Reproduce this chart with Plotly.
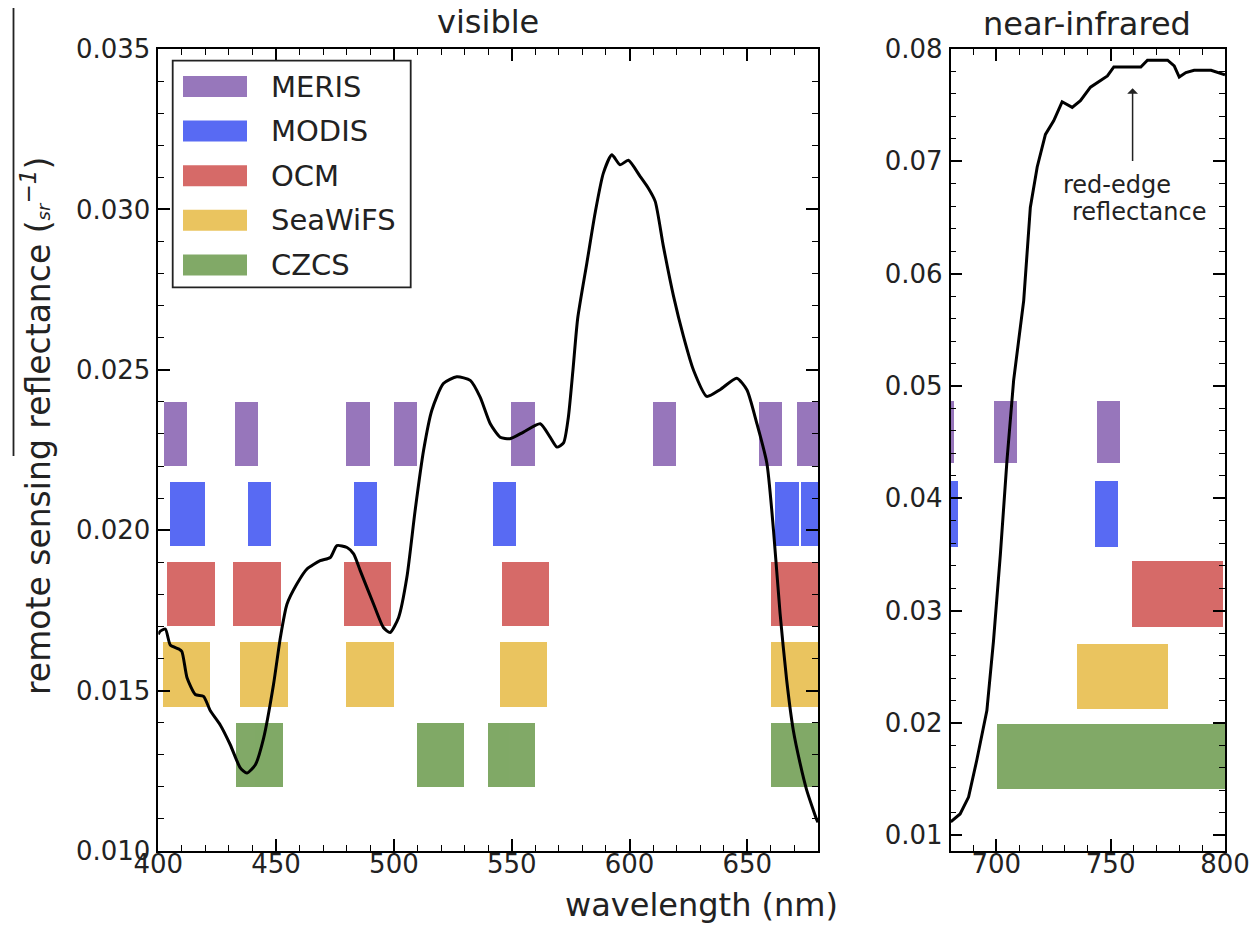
import plotly.graph_objects as go

W, H = 1251, 926

# ---------------- data ----------------
vis_nm = [400.0, 400.8, 403.0, 405.1, 408.6, 410.0, 412.2, 415.7, 419.2, 422.1, 426.3, 430.5,
          434.8, 437.6, 441.2, 444.7, 448.9, 451.8, 454.6, 458.8, 463.1, 468.7, 473.0, 475.8,
          480.1, 482.9, 485.7, 491.4, 495.6, 498.4, 502.0, 505.5, 509.0, 512.6, 516.1, 521.0,
          526.7, 532.4, 536.6, 540.9, 545.1, 549.3, 555.0, 562.1, 566.3, 569.2, 572.0, 574.0,
          576.0, 578.0, 581.9, 585.4, 588.9, 592.5, 596.0, 599.5, 604.5, 608.0, 610.9, 614.4,
          618.7, 622.9, 627.1, 632.8, 638.4, 645.5, 649.8, 654.0, 658.3, 661.1, 663.9, 666.7,
          669.5, 672.4, 675.2, 679.5, 680.0]
vis_rrs = [0.01675, 0.01685, 0.01692, 0.01642, 0.01630, 0.01622, 0.01540, 0.01488, 0.01482, 0.01437,
           0.01393, 0.01332, 0.01259, 0.01243, 0.01269, 0.01352, 0.01519, 0.01665, 0.01769, 0.01832,
           0.01879, 0.01905, 0.01915, 0.01952, 0.01946, 0.01926, 0.01874, 0.01769, 0.01696, 0.01681,
           0.01728, 0.01853, 0.02061, 0.02249, 0.02374, 0.02457, 0.02478, 0.02467, 0.02415, 0.02332,
           0.02290, 0.02285, 0.02306, 0.02332, 0.02290, 0.02259, 0.02272, 0.02350, 0.02500, 0.02660,
           0.02833, 0.02989, 0.03113, 0.03170, 0.03139, 0.03153, 0.03103, 0.03066, 0.03025, 0.02884,
           0.02729, 0.02604, 0.02500, 0.02417, 0.02438, 0.02474, 0.02438, 0.02334, 0.02209, 0.02001,
           0.01741, 0.01533, 0.01377, 0.01273, 0.01190, 0.01097, 0.01090]

nir_nm = [680.1, 684.2, 687.9, 691.5, 695.9, 698.8, 701.8, 704.7, 707.6, 712.0, 714.9, 717.9,
          721.5, 725.1, 728.8, 733.2, 736.8, 741.2, 745.6, 748.6, 751.4, 763.2, 766.1, 774.9,
          777.8, 780.0, 782.9, 786.5, 793.9, 800.0]
nir_rrs = [0.0112, 0.0119, 0.0134, 0.0167, 0.0211, 0.0273, 0.0350, 0.0434, 0.0505, 0.0576, 0.0659, 0.0695,
           0.0724, 0.0736, 0.0753, 0.0748, 0.0754, 0.0766, 0.0772, 0.0776, 0.0784, 0.0784, 0.0790, 0.0790,
           0.0785, 0.0775, 0.0779, 0.0781, 0.0781, 0.0777]

sensors = ["MERIS", "MODIS", "OCM", "SeaWiFS", "CZCS"]
colors = {"MERIS": "rgb(140,104,180)", "MODIS": "rgb(70,90,242)", "OCM": "rgb(210,90,88)",
          "SeaWiFS": "rgb(232,190,78)", "CZCS": "rgb(115,160,86)"}

band_start = {
    "MERIS": [402.5, 432.5, 480, 500, 550, 610, 655, 671.25, 698.75, 743.75],
    "MODIS": [405, 438, 483, 542, 662, 673, 743],
    "OCM": [404, 432, 479, 546, 660, 759],
    "SeaWiFS": [402, 435, 480, 545, 660, 735],
    "CZCS": [433, 510, 540, 660, 700],
}
band_end = {
    "MERIS": [412.5, 442.5, 490, 510, 560, 620, 665, 681.25, 708.75, 753.75],
    "MODIS": [420, 448, 493, 552, 672, 683, 753],
    "OCM": [424, 452, 499, 566, 680, 799],
    "SeaWiFS": [422, 455, 500, 565, 680, 775],
    "CZCS": [453, 530, 560, 680, 800],
}
# row extents (bottom, top) in each panel
row_vis = {"MERIS": (0.0220, 0.0240), "MODIS": (0.0195, 0.0215), "OCM": (0.0170, 0.0190),
           "SeaWiFS": (0.0145, 0.0165), "CZCS": (0.0120, 0.0140)}
row_nir = {"MERIS": (0.0431, 0.0487), "MODIS": (0.0357, 0.0415), "OCM": (0.0285, 0.0344),
           "SeaWiFS": (0.0212, 0.0270), "CZCS": (0.0141, 0.0199)}

vis_xticks = [400, 450, 500, 550, 600, 650]
vis_yticks = [0.010, 0.015, 0.020, 0.025, 0.030, 0.035]
nir_xticks = [700, 750, 800]
nir_yticks = [0.01, 0.02, 0.03, 0.04, 0.05, 0.06, 0.07, 0.08]

# ---------------- figure ----------------
fig = go.Figure()

for s in sensors:
    starts, ends = band_start[s], band_end[s]
    cx = [(a + b) / 2 for a, b in zip(starts, ends)]
    wd = [b - a for a, b in zip(starts, ends)]
    for (rows, xa, ya) in [(row_vis, "x", "y"), (row_nir, "x2", "y2")]:
        y0, y1 = rows[s]
        fig.add_trace(go.Bar(
            x=cx, width=wd, base=[y0] * len(cx), y=[y1 - y0] * len(cx),
            marker=dict(color=colors[s], line=dict(width=0)), opacity=0.9,
            xaxis=xa, yaxis=ya, showlegend=False, hoverinfo="skip"))

fig.add_trace(go.Scatter(x=vis_nm, y=vis_rrs, mode="lines",
                         line=dict(color="black", width=3, shape="spline", smoothing=0.6),
                         xaxis="x", yaxis="y", showlegend=False))
fig.add_trace(go.Scatter(x=nir_nm, y=nir_rrs, mode="lines", line=dict(color="black", width=3),
                         xaxis="x2", yaxis="y2", showlegend=False))

tickfont = dict(family="DejaVu Sans", size=26, color="#222")
common = dict(showline=True, linecolor="black", linewidth=1.5, mirror="ticks", ticks="inside",
              ticklen=12, tickwidth=1.5, tickcolor="black", showgrid=False, zeroline=False,
              tickfont=tickfont, automargin=False)
xminor = dict(dtick=10, ticklen=6, ticks="inside", tickcolor="black", tickwidth=1.2)

ydom = [1 - 851 / H, 1 - 49 / H]
fig.update_layout(
    width=W, height=H, margin=dict(l=0, r=0, t=0, b=0, pad=0),
    paper_bgcolor="white", plot_bgcolor="white", barmode="overlay", bargap=0,
    xaxis=dict(domain=[158.3 / W, 818 / W], range=[400, 680], tickvals=vis_xticks,
               ticktext=[str(v) for v in vis_xticks], minor=xminor, ticklabelstandoff=-11,
               anchor="y", **common),
    yaxis=dict(domain=ydom, range=[0.010, 0.035], tickvals=vis_yticks,
               ticktext=["%.3f" % v for v in vis_yticks], ticklabelstandoff=1,
               minor=dict(dtick=0.001, ticklen=6, ticks="inside", tickcolor="black", tickwidth=1.2),
               anchor="x", **common),
    xaxis2=dict(domain=[950.5 / W, 1225 / W], range=[680, 800], tickvals=nir_xticks,
                ticktext=[str(v) for v in nir_xticks], ticklabelstandoff=-11,
                minor=dict(dtick=10, tick0=680, ticklen=6, ticks="inside", tickcolor="black", tickwidth=1.2),
                anchor="y2", **common),
    yaxis2=dict(domain=ydom, range=[0.0086, 0.08], tickvals=nir_yticks,
                ticktext=["%.2f" % v for v in nir_yticks], ticklabelstandoff=1,
                minor=dict(dtick=0.002, tick0=0.0, ticklen=6, ticks="inside", tickcolor="black", tickwidth=1.2),
                anchor="x2", **common),
)

def txt(text, px, py, size, **kw):
    d = dict(text=text, x=px / W, y=1 - py / H, xref="paper", yref="paper", xanchor="center",
             yanchor="middle", showarrow=False, font=dict(family="DejaVu Sans", size=size, color="#222"))
    d.update(kw)
    return d

ann = []
ann.append(txt("visible", 488, 22, 32))
ann.append(txt("near-infrared", 1087, 24, 32))
ann.append(txt("wavelength (nm)", 702, 905, 32))
ann.append(txt("remote sensing reflectance (<i><span style='font-size:18px'>sr</span><sup>−1</sup></i>)",
               37, 426, 33, textangle=-90))
# red-edge annotation
ann.append(dict(x=759.6, y=0.0765, ax=759.6, ay=0.0699, xref="x2", yref="y2", axref="x2", ayref="y2",
                text="", showarrow=True, arrowhead=1, arrowsize=1.2, arrowwidth=1.5, arrowcolor="#222"))
ann.append(dict(text="red-edge", x=753, y=0.0679, xref="x2", yref="y2", showarrow=False,
                xanchor="center", yanchor="middle", font=dict(family="DejaVu Sans", size=24, color="#222")))
ann.append(dict(text="reflectance", x=762.5, y=0.0655, xref="x2", yref="y2", showarrow=False,
                xanchor="center", yanchor="middle", font=dict(family="DejaVu Sans", size=24, color="#222")))

shapes = []
# stray fraction bar of the y-label
shapes.append(dict(type="line", xref="paper", yref="paper", x0=13.5 / W, x1=13.5 / W,
                   y0=1 - 8 / H, y1=1 - 456 / H, line=dict(color="#222", width=1.8)))
# legend box
shapes.append(dict(type="rect", xref="paper", yref="paper", x0=172.7 / W, x1=410.7 / W,
                   y0=1 - 287.3 / H, y1=1 - 60.7 / H, line=dict(color="#222", width=1.8),
                   fillcolor="white", layer="above"))
for i, s in enumerate(sensors):
    cy = 86.5 + i * 44.6
    shapes.append(dict(type="rect", xref="paper", yref="paper", x0=183 / W, x1=247 / W,
                       y0=1 - (cy + 10.5) / H, y1=1 - (cy - 10.5) / H, line=dict(width=0),
                       fillcolor=colors[s], opacity=0.9, layer="above"))
    ann.append(txt(s, 269, cy, 29, xanchor="left"))

fig.update_layout(annotations=ann, shapes=shapes)
fig.write_html("out.html")
